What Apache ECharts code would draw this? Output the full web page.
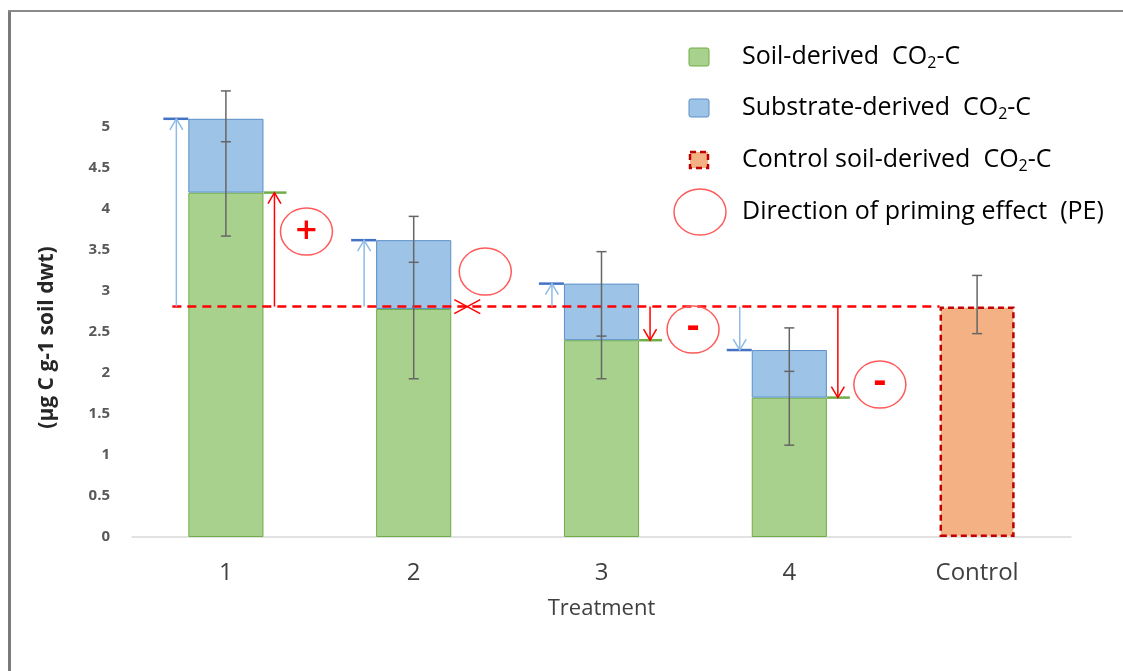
<!DOCTYPE html>
<html>
<head>
<meta charset="utf-8">
<script src="https://cdn.jsdelivr.net/npm/echarts@6/dist/echarts.min.js"></script>
<style>
  html, body { margin: 0; padding: 0; background: #ffffff; }
  #chart { width: 1123px; height: 671px; }
</style>
</head>
<body>
<div id="chart"></div>
<script>
// ---- data ----
const treatments = ['1', '2', '3', '4', 'Control'];
const soilDerived = [4.2, 2.78, 2.4, 1.7];          // soil-derived CO2-C
const substrateDerived = [0.9, 0.84, 0.69, 0.58];   // substrate-derived CO2-C (stacked on soil)
const controlSoil = 2.81;                            // control soil-derived CO2-C
const errHigh = [5.44, 3.91, 3.48, 2.55, 3.19];
const errMid  = [4.82, 3.35, 2.45, 2.02, NaN];
const errLow  = [3.67, 1.93, 1.93, 1.12, 2.48];
const yMax = 5.5, yStep = 0.5;

// ---- layout / style ----
const FONT = '"Open Sans", "Liberation Sans", sans-serif';
const BAR_FRAC = 0.4;
const GREEN = '#a9d18e', GREEN_EDGE = '#70ad47';
const BLUE = '#9dc3e6', BLUE_EDGE = '#5b8fc9', BLUE_DARK = '#4472c4';
const ORANGE = '#f4b183', DARK_RED = '#c00000', RED = '#ff0000', RING = '#ff5a5a';
// priming-direction ring placement: px from bar right edge, px from control level
const ringDx = [43, 34, 54, 53];
const ringDy = [-75, -35, 23, 78];

const chart = echarts.init(document.getElementById('chart'), null, { renderer: 'canvas' });

function seg(x1, y1, x2, y2, color, w, dash) {
  return { type: 'line', shape: { x1, y1, x2, y2 },
           style: { stroke: color, lineWidth: w, lineDash: dash || null } };
}
function arrow(x, yFrom, yTo, color, w) {
  const dir = yTo > yFrom ? 1 : -1;
  return [
    seg(x, yFrom, x, yTo, color, w),
    { type: 'polyline', shape: { points: [[x - 6.5, yTo - dir * 11], [x, yTo], [x + 6.5, yTo - dir * 11]] },
      style: { stroke: color, lineWidth: w, fill: null } }
  ];
}

function renderErrors(params, api) {
  const i = api.value(0);
  const x = api.coord([i, 0])[0];
  const yl = api.coord([i, api.value(1)])[1];
  const ym = api.value(2);
  const yh = api.coord([i, api.value(3)])[1];
  const c = '#666666';
  const kids = [seg(x, yl, x, yh, c, 1.5), seg(x - 5, yl, x + 5, yl, c, 1.5), seg(x - 5, yh, x + 5, yh, c, 1.5)];
  if (!isNaN(ym)) {
    const y = api.coord([i, ym])[1];
    kids.push(seg(x - 5, y, x + 5, y, c, 1.5));
  }
  return { type: 'group', children: kids };
}

function renderPriming(params, api) {
  const i = api.value(0), soil = api.value(1), total = api.value(2);
  const band = api.size([1, 0])[0];
  const half = band * BAR_FRAC / 2;
  const cx = api.coord([i, 0])[0];
  const xl = cx - half, xr = cx + half;
  const yTot = api.coord([i, total])[1];
  const ySoil = api.coord([i, soil])[1];
  const yCtl = api.coord([i, controlSoil])[1];
  const kids = [];
  // substrate contribution relative to control level
  kids.push(seg(xl - 25, yTot, xl, yTot, BLUE_DARK, 2.5));
  kids.push(...arrow(xl - 12, yCtl, yTot, '#8fbbe6', 1.5));
  const diff = soil - controlSoil;
  let sign = '';
  if (Math.abs(diff) < 0.05) {
    const mx = xr + 16;
    kids.push(seg(mx - 13, yCtl - 7, mx + 13, yCtl + 7, RED, 1.5));
    kids.push(seg(mx - 13, yCtl + 7, mx + 13, yCtl - 7, RED, 1.5));
  } else {
    sign = diff > 0 ? '+' : '-';
    kids.push(seg(xr, ySoil, xr + 23, ySoil, GREEN_EDGE, 2.5));
    kids.push(...arrow(xr + 11, yCtl, ySoil, RED, 1.5));
  }
  const ex = xr + ringDx[i], ey = yCtl + ringDy[i];
  kids.push({ type: 'ellipse', shape: { cx: ex, cy: ey, rx: 26, ry: 23.5 },
              style: { stroke: RING, lineWidth: 1.5, fill: null } });
  if (sign) {
    kids.push({ type: 'text', x: ex, y: ey + (sign === '+' ? 1 : -2),
      style: { text: sign, fill: RED,
               font: (sign === '+' ? '600 38px ' : 'bold 38px ') + FONT,
               align: 'center', verticalAlign: 'middle' } });
  }
  return { type: 'group', children: kids };
}

function renderControlLevel(params, api) {
  const band = api.size([1, 0])[0];
  const half = band * BAR_FRAC / 2;
  const x1 = api.coord([api.value(0), 0])[0] - half - 16;
  const x2 = api.coord([api.value(1), 0])[0] - half;
  const y = api.coord([0, api.value(2)])[1];
  return seg(x1, y, x2, y, RED, 2.5, [9, 6]);
}

const labelRich = {
  a: { fontFamily: FONT, fontSize: 25, color: '#404040' },
  s: { fontFamily: FONT, fontSize: 16, color: '#404040', padding: [12, 0, 0, 0] }
};
function legendRow(y, icon, textFmt) {
  return [icon, { type: 'text', x: 742, y: y,
    style: { text: textFmt, rich: labelRich, verticalAlign: 'middle', align: 'left' } }];
}

const option = {
  animation: false,
  backgroundColor: '#ffffff',
  grid: { left: 132, right: 52, top: 86, bottom: 134 },
  xAxis: {
    type: 'category',
    data: treatments,
    axisLine: { lineStyle: { color: '#d9d9d9', width: 1.5 } },
    axisTick: { show: false },
    axisLabel: { fontFamily: FONT, fontSize: 24, color: '#404040', margin: 24 },
    name: 'Treatment',
    nameLocation: 'middle',
    nameGap: 61,
    nameTextStyle: { fontFamily: FONT, fontSize: 22, color: '#404040' }
  },
  yAxis: {
    type: 'value',
    min: 0, max: yMax, interval: yStep,
    axisLine: { show: false },
    axisTick: { show: false },
    splitLine: { show: false },
    axisLabel: {
      fontFamily: FONT, fontSize: 15, fontWeight: 'bold', color: '#595959', margin: 22,
      formatter: v => (v > 5 ? '' : String(v))
    },
    name: '(µg C g-1 soil dwt)',
    nameLocation: 'middle',
    nameRotate: 90,
    nameGap: 74,
    nameTextStyle: { fontFamily: FONT, fontSize: 21, fontWeight: 'bold', color: '#262626',
                     padding: [0, 52, 0, 0] }
  },
  series: [
    {
      name: 'Soil-derived CO2-C', type: 'bar', stack: 'co2', barWidth: '40%',
      data: soilDerived.concat(['-']),
      itemStyle: { color: GREEN, borderColor: GREEN_EDGE, borderWidth: 1 }
    },
    {
      name: 'Substrate-derived CO2-C', type: 'bar', stack: 'co2',
      data: substrateDerived.concat(['-']),
      itemStyle: { color: BLUE, borderColor: BLUE_EDGE, borderWidth: 1 }
    },
    {
      name: 'Control soil-derived CO2-C', type: 'bar', stack: 'co2',
      data: ['-', '-', '-', '-', controlSoil],
      itemStyle: { color: ORANGE, borderColor: DARK_RED, borderWidth: 2.5, borderType: [6, 4] }
    },
    {
      name: 'level', type: 'custom', z: 5, silent: true,
      renderItem: renderControlLevel,
      encode: { x: 0, y: 2 },
      data: [[0, 4, controlSoil]]
    },
    {
      name: 'errors', type: 'custom', z: 6, silent: true,
      renderItem: renderErrors,
      encode: { x: 0, y: [1, 3] },
      data: treatments.map((t, i) => [i, errLow[i], errMid[i], errHigh[i]])
    },
    {
      name: 'priming', type: 'custom', z: 7, silent: true,
      renderItem: renderPriming,
      encode: { x: 0, y: [1, 2] },
      data: soilDerived.map((s, i) => [i, s, s + substrateDerived[i]])
    }
  ],
  graphic: [
    // frame
    { type: 'line', shape: { x1: 9.5, y1: 10, x2: 9.5, y2: 671 }, style: { stroke: '#7a7a7a', lineWidth: 3 } },
    { type: 'line', shape: { x1: 8, y1: 11, x2: 1123, y2: 11 }, style: { stroke: '#8a8a8a', lineWidth: 2 } },
    // legend
    ...legendRow(57,
      { type: 'rect', shape: { x: 689, y: 48, width: 20, height: 18, r: 2 }, style: { fill: GREEN, stroke: GREEN_EDGE, lineWidth: 1 } },
      '{a|Soil-derived  CO}{s|2}{a|-C}'),
    ...legendRow(108,
      { type: 'rect', shape: { x: 689, y: 99, width: 20, height: 18, r: 2 }, style: { fill: BLUE, stroke: BLUE_EDGE, lineWidth: 1 } },
      '{a|Substrate-derived  CO}{s|2}{a|-C}'),
    ...legendRow(160,
      { type: 'rect', shape: { x: 690, y: 152, width: 18, height: 16 }, style: { fill: ORANGE, stroke: DARK_RED, lineWidth: 2.5, lineDash: [6, 4] } },
      '{a|Control soil-derived  CO}{s|2}{a|-C}'),
    ...legendRow(212,
      { type: 'ellipse', shape: { cx: 700, cy: 212, rx: 26, ry: 23 }, style: { fill: null, stroke: RING, lineWidth: 1.5 } },
      '{a|Direction of priming effect  (PE)}')
  ]
};

chart.setOption(option);
</script>
</body>
</html>
